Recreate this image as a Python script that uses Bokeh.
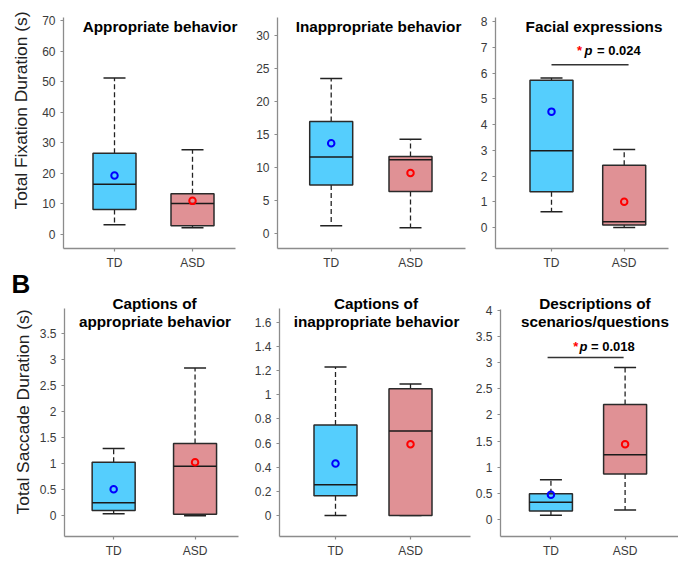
import math
from bokeh.plotting import figure
from bokeh.layouts import column, row
from bokeh.models import Label, FixedTicker, CustomJSTickFormatter, Range1d
from bokeh.embed import file_html
from bokeh.resources import INLINE

# ---------------- data ----------------
groups = ["TD", "ASD"]
group_pos = [1, 2]

panel_titles = [
    ["Appropriate behavior"],
    ["Inappropriate behavior"],
    ["Facial expressions"],
    ["Captions of", "appropriate behavior"],
    ["Captions of", "inappropriate behavior"],
    ["Descriptions of", "scenarios/questions"],
]
y_labels = ["Total Fixation Duration (s)", "Total Saccade Duration (s)"]
panel_letter = "B"

whisk_lo = [[3.2, 2.2], [1.2, 0.9], [0.61, 0.0], [0.04, 0.0], [0.0, 0.0], [0.08, 0.18]]
q1 = [[8.2, 2.9], [7.4, 6.4], [1.39, 0.10], [0.10, 0.03], [0.164, 0.0], [0.16, 0.87]]
median = [[16.4, 10.1], [11.6, 11.2], [2.98, 0.22], [0.25, 0.95], [0.254, 0.70], [0.33, 1.24]]
q3 = [[26.6, 13.3], [17.0, 11.7], [5.72, 2.42], [1.03, 1.39], [0.75, 1.05], [0.49, 2.20]]
whisk_hi = [[51.2, 27.7], [23.5, 14.3], [5.81, 3.03], [1.29, 2.84], [1.23, 1.09], [0.76, 2.91]]
mean = [[19.3, 11.0], [13.7, 9.2], [4.5, 1.0], [0.51, 1.03], [0.43, 0.59], [0.47, 1.44]]

y_ticks = [
    [0, 10, 20, 30, 40, 50, 60, 70],
    [0, 5, 10, 15, 20, 25, 30],
    [0, 1, 2, 3, 4, 5, 6, 7, 8],
    [0, 0.5, 1, 1.5, 2, 2.5, 3, 3.5],
    [0, 0.2, 0.4, 0.6, 0.8, 1, 1.2, 1.4, 1.6],
    [0, 0.5, 1, 1.5, 2, 2.5, 3, 3.5, 4],
]

sig_panels = [2, 5]
sig_p = ["0.024", "0.018"]
sig_line_y = [6.32, 3.10]
sig_line_x = [[1.0, 2.06], [0.955, 1.98]]

# ---------------- styles / geometry ----------------
FONT = "Liberation Sans"
BOX_FILLS = ["#55CEFD", "#E09195"]
MEAN_COLORS = ["#0000FF", "#FF0000"]
STRIP_W = 36
STRIP_H = 560

# page-pixel layout of each panel:
# fig = (fig_left, fig_top, width, height), frame = (left, top, right, bottom),
# xcal = (px of TD, px of ASD), ycal = (px of 0, tick value k, px of k),
# axis_top / axis_right = where the axis lines end
geo = [
    dict(fig=(36, 0, 209, 283), frame=(63, 0, 245, 248), xcal=(114, 192),
         ycal=(234, 70, 20), axis_top=17, axis_right=235),
    dict(fig=(245, 0, 230, 283), frame=(277, 0, 475, 248), xcal=(330.7, 410),
         ycal=(233.3, 30, 35), axis_top=17, axis_right=465),
    dict(fig=(475, 0, 203, 283), frame=(495, 0, 678, 248), xcal=(551, 623.7),
         ycal=(227, 8, 21), axis_top=17, axis_right=668),
    dict(fig=(36, 283, 209, 277), frame=(62, 283, 245, 539), xcal=(111.7, 194),
         ycal=(518, 3.5, 333.7), axis_top=308, axis_right=238),
    dict(fig=(245, 283, 227, 277), frame=(279, 283, 472, 539), xcal=(335, 410),
         ycal=(517.7, 1.6, 322.3), axis_top=308, axis_right=470),
    dict(fig=(472, 283, 206, 277), frame=(498, 283, 678, 539), xcal=(549, 624),
         ycal=(521.7, 4, 310.3), axis_top=309, axis_right=678),
]


def xval(g, px):
    td, asd = g["xcal"]
    return 1 + (px - td) / (asd - td)


def yval(g, py):
    p0, k, pk = g["ycal"]
    return (p0 - py) / ((p0 - pk) / k)


def add_text(p, g, px, py, text, size, style="normal", color="#000000",
             align="left", baseline="alphabetic"):
    p.add_layout(Label(x=xval(g, px), y=yval(g, py), text=text, text_font=FONT,
                       text_font_size=size, text_font_style=style,
                       text_color=color, text_align=align,
                       text_baseline=baseline))


title_pos = [
    [(159.5, 25.5)],
    [(378, 25.5)],
    [(593.5, 25.5)],
    [(153, 303.5), (153.5, 321.5)],
    [(375.5, 303.5), (376, 321.5)],
    [(593.5, 303.5), (593.5, 321.5)],
]
sig_text_pos = [(49.5, 579, 584, 596.5), (346.5, 574, 578, 589.5)]

figs = []
for i in range(6):
    g = geo[i]
    fl, ft, fw, fh = g["fig"]
    l, t, r, b = g["frame"]
    xr = (xval(g, l), xval(g, r))
    yr = (yval(g, b), yval(g, t))
    p = figure(width=fw, height=fh,
               x_range=Range1d(*xr), y_range=Range1d(*yr),
               output_backend="svg", toolbar_location=None,
               min_border_left=l - fl, min_border_right=fl + fw - r,
               min_border_top=t - ft, min_border_bottom=ft + fh - b)
    p.outline_line_color = None
    p.xgrid.visible = False
    p.ygrid.visible = False
    p.background_fill_color = "white"
    p.border_fill_color = "white"

    for ax in (p.xaxis[0], p.yaxis[0]):
        ax.axis_line_color = "#8c8c8c"
        ax.axis_line_width = 1.3
        ax.major_tick_line_color = "#8c8c8c"
        ax.major_tick_line_width = 1.2
        ax.major_tick_out = 3
        ax.major_tick_in = 0
        ax.minor_tick_line_color = None
        ax.major_label_text_font = FONT
        ax.major_label_text_font_size = "12px"
        ax.major_label_text_color = "#3a3a3a"
    p.xaxis[0].ticker = FixedTicker(ticks=group_pos)
    p.xaxis[0].major_label_overrides = {gp: gn for gp, gn in zip(group_pos, groups)}
    p.xaxis[0].major_label_standoff = 4
    p.xaxis[0].bounds = (xr[0], xval(g, g["axis_right"]))
    p.yaxis[0].ticker = FixedTicker(ticks=y_ticks[i])
    p.yaxis[0].formatter = CustomJSTickFormatter(
        code="return String(Math.round(tick*1000)/1000);")
    p.yaxis[0].major_label_standoff = 5
    p.yaxis[0].bounds = (yr[0], yval(g, g["axis_top"]))

    # whiskers
    p.segment(x0=group_pos, y0=q3[i], x1=group_pos, y1=whisk_hi[i],
              line_color="#222222", line_width=1.3, line_dash="5 3")
    p.segment(x0=group_pos, y0=q1[i], x1=group_pos, y1=whisk_lo[i],
              line_color="#222222", line_width=1.3, line_dash="5 3")
    p.scatter(x=group_pos, y=whisk_hi[i], marker="dash", size=22,
              line_color="#222222", line_width=1.5)
    p.scatter(x=group_pos, y=whisk_lo[i], marker="dash", size=22,
              line_color="#222222", line_width=1.5)
    # boxes
    centers = [(a + c) / 2 for a, c in zip(q1[i], q3[i])]
    heights = [c - a for a, c in zip(q1[i], q3[i])]
    p.rect(x=group_pos, y=centers, width=43, height=heights, width_units="screen",
           fill_color=BOX_FILLS, line_color="#2a2a2a", line_width=1.5)
    # medians
    p.scatter(x=group_pos, y=median[i], marker="dash", size=43,
              line_color="#1a1a1a", line_width=1.5)
    # means
    p.scatter(x=group_pos, y=mean[i], marker="circle", size=6.5,
              fill_color=None, line_color=MEAN_COLORS, line_width=2)

    # titles (inside the frame, above the axis top)
    for line, (tx, ty) in zip(panel_titles[i], title_pos[i]):
        add_text(p, g, tx, ty, line, "15.3px", style="bold", align="center")

    figs.append(p)

# significance brackets
for k, pi_ in enumerate(sig_panels):
    p = figs[pi_]
    g = geo[pi_]
    p.line(x=sig_line_x[k], y=[sig_line_y[k], sig_line_y[k]],
           line_color="#333333", line_width=1.5)
    by, sx, px_, ex = sig_text_pos[k]
    add_text(p, g, sx, by, "*", "13px", style="bold", color="#FF0000", align="center")
    add_text(p, g, px_, by, "p", "13px", style="bold italic")
    add_text(p, g, ex, by, "= " + sig_p[k], "13px", style="bold")

# left strip carrying the y-axis titles and the panel letter
strip = figure(width=STRIP_W, height=STRIP_H, x_range=Range1d(0, STRIP_W),
               y_range=Range1d(0, STRIP_H), output_backend="svg",
               toolbar_location=None, x_axis_location=None, y_axis_location=None,
               min_border=0)
strip.outline_line_color = None
strip.xgrid.visible = False
strip.ygrid.visible = False
for txt, (cx, cy) in zip(y_labels, [(20, 110), (22, 411.5)]):
    strip.add_layout(Label(x=cx, y=STRIP_H - cy, text=txt, text_font=FONT,
                           text_font_size="17.4px", text_color="#222222",
                           text_align="center", text_baseline="middle",
                           angle=math.pi / 2))
strip.add_layout(Label(x=11, y=STRIP_H - 283, text=panel_letter, text_font=FONT,
                       text_font_size="26px", text_font_style="bold",
                       text_color="#000000", text_align="left",
                       text_baseline="alphabetic"))

layout = row(strip,
             column(row(*figs[:3], spacing=0), row(*figs[3:], spacing=0), spacing=0),
             spacing=0)

with open("out.html", "w") as f:
    f.write(file_html(layout, INLINE))
